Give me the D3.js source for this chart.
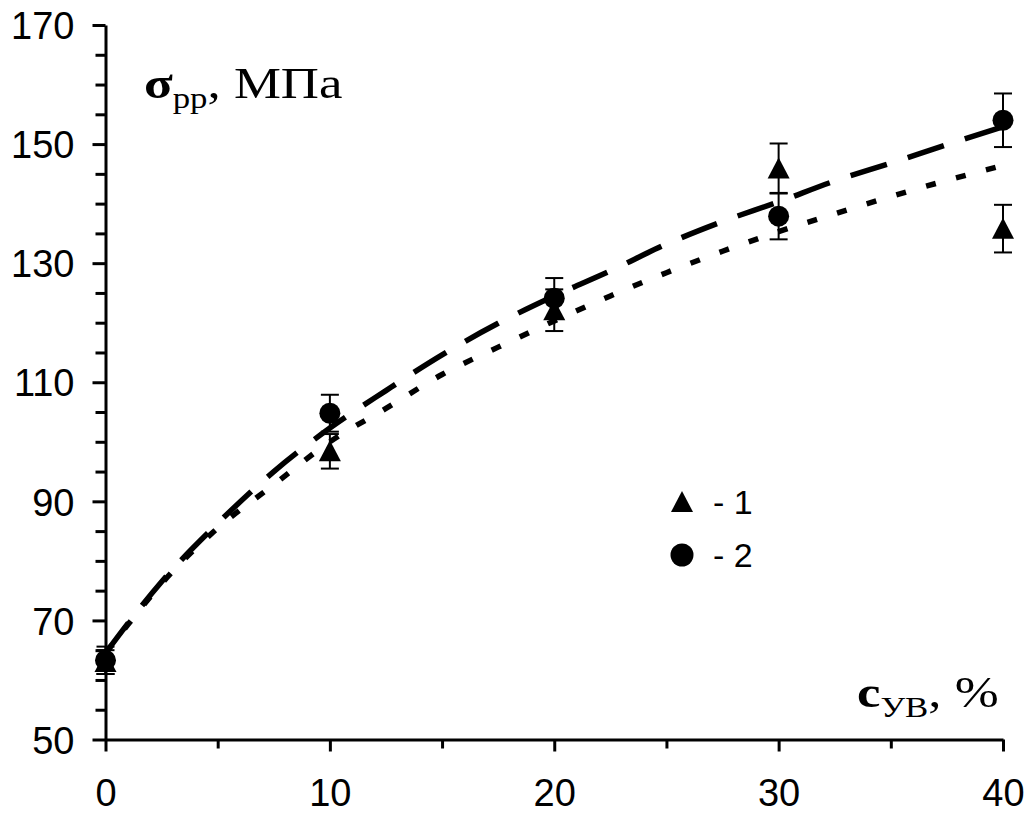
<!DOCTYPE html>
<html>
<head>
<meta charset="utf-8">
<script src="https://cdn.jsdelivr.net/npm/d3@7"></script>
<style>
  html, body { margin: 0; padding: 0; background: #fff; }
  svg { display: block; }
</style>
</head>
<body>
<svg id="chart" width="1027" height="814"></svg>
<script>
// Fibre content, %
const conc = [0, 10, 20, 30, 40];
// Series 1 (triangles) and its spread
const series1 = [63.0, 98.4, 122.1, 145.9, 135.8];
const err1 = [2.0, 2.9, 3.5, 4.2, 4.0];
// Series 2 (circles) and its spread
const series2 = [63.3, 104.8, 124.1, 137.9, 154.0];
const err2 = [2.3, 3.1, 3.4, 3.9, 4.5];

// Trend curves sampled along the concentration axis
const trendX = [0, 1, 2.5, 5, 7.5, 10, 12.5, 15, 17.5, 20, 22.5, 25, 27.5, 30, 32.5, 35, 37.5, 40];
const trend1 = [64.5, 69.3, 76.2, 85.5, 92.8, 100.0, 105.6, 111.3, 115.9, 120.3, 124.5, 128.4, 132.0, 135.3, 138.3, 141.2, 143.9, 146.4];
const trend2 = [64.5, 69.5, 76.5, 86.3, 95.0, 102.3, 108.6, 114.6, 119.9, 124.5, 128.7, 133.2, 137.0, 140.3, 143.8, 146.8, 149.9, 152.9];

const xMajor = [0, 10, 20, 30, 40];
const xMinor = [5, 15, 25, 35];
const yMajor = [50, 70, 90, 110, 130, 150, 170];
const yMinor = [55, 60, 65, 75, 80, 85, 95, 100, 105, 115, 120, 125, 135, 140, 145, 155, 160, 165];

const svg = d3.select("#chart");

const x = d3.scaleLinear().domain([0, 40]).range([105.5, 1003]);
const y = d3.scaleLinear().domain([50, 170]).range([739.5, 25]);

const serifStretch = 1.2;  // wide serif glyphs in the axis titles

// ---- axes ----
const axisG = svg.append("g");

// y minor ticks
axisG.append("g")
  .attr("transform", `translate(${x(0)},0)`)
  .call(d3.axisLeft(y).tickValues(yMinor).tickSize(10).tickFormat(""))
  .call(g => g.select(".domain").remove())
  .call(g => g.selectAll("line").attr("stroke", "#000").attr("stroke-width", 3));

// y major ticks and labels
const yAxisG = axisG.append("g")
  .attr("transform", `translate(${x(0)},0)`)
  .call(d3.axisLeft(y).tickValues(yMajor).tickSize(13).tickSizeOuter(0).tickFormat(d3.format("d")));
yAxisG.select(".domain").attr("stroke", "#000").attr("stroke-width", 3);
yAxisG.selectAll("line").attr("stroke", "#000").attr("stroke-width", 3);
yAxisG.selectAll("text")
  .attr("x", -31)
  .attr("dy", "0.36em")
  .attr("font-family", "Liberation Sans, Arial, sans-serif")
  .attr("font-size", 38)
  .attr("fill", "#000");

// x minor ticks
axisG.append("g")
  .attr("transform", `translate(0,${y(50)})`)
  .call(d3.axisBottom(x).tickValues(xMinor).tickSize(9).tickFormat(""))
  .call(g => g.select(".domain").remove())
  .call(g => g.selectAll("line").attr("stroke", "#000").attr("stroke-width", 3));

// x major ticks and labels
const xAxisG = axisG.append("g")
  .attr("transform", `translate(0,${y(50)})`)
  .call(d3.axisBottom(x).tickValues(xMajor).tickSize(12).tickSizeOuter(0).tickFormat(d3.format("d")));
xAxisG.select(".domain").attr("stroke", "#000").attr("stroke-width", 3);
xAxisG.selectAll("line").attr("stroke", "#000").attr("stroke-width", 3);
xAxisG.selectAll("text")
  .attr("y", 40)
  .attr("dy", "0.71em")
  .attr("font-family", "Liberation Sans, Arial, sans-serif")
  .attr("font-size", 38)
  .attr("fill", "#000");

// ---- trend curves ----
const line = d3.line()
  .x(d => x(d[0]))
  .y(d => y(d[1]))
  .curve(d3.curveMonotoneX);

svg.append("path")
  .datum(trendX.map((v, i) => [v, trend1[i]]))
  .attr("d", line)
  .attr("fill", "none")
  .attr("stroke", "#000")
  .attr("stroke-width", 5.5)
  .attr("stroke-dasharray", "10,21");

svg.append("path")
  .datum(trendX.map((v, i) => [v, trend2[i]]))
  .attr("d", line)
  .attr("fill", "none")
  .attr("stroke", "#000")
  .attr("stroke-width", 5.5)
  .attr("stroke-dasharray", "38,22");

// ---- error bars ----
function errorBars(vals, errs) {
  const g = svg.append("g").attr("stroke", "#000").attr("stroke-width", 2).attr("fill", "none");
  conc.forEach((c, i) => {
    const cx = x(c), top = y(vals[i] + errs[i]), bot = y(vals[i] - errs[i]);
    g.append("line").attr("x1", cx).attr("x2", cx).attr("y1", top).attr("y2", bot);
    g.append("line").attr("x1", cx - 9).attr("x2", cx + 9).attr("y1", top).attr("y2", top);
    g.append("line").attr("x1", cx - 9).attr("x2", cx + 9).attr("y1", bot).attr("y2", bot);
  });
}
errorBars(series1, err1);
errorBars(series2, err2);

// ---- markers ----
const triPath = "M0,-11L11,10L-11,10Z";

svg.append("g").selectAll("path")
  .data(conc.map((c, i) => [c, series1[i]]))
  .join("path")
  .attr("transform", d => `translate(${x(d[0])},${y(d[1])})`)
  .attr("d", triPath)
  .attr("fill", "#000");

svg.append("g").selectAll("circle")
  .data(conc.map((c, i) => [c, series2[i]]))
  .join("circle")
  .attr("cx", d => x(d[0]))
  .attr("cy", d => y(d[1]))
  .attr("r", 10.5)
  .attr("fill", "#000");

// ---- legend ----
const legend = svg.append("g");
legend.append("path")
  .attr("transform", "translate(682,502)")
  .attr("d", triPath)
  .attr("fill", "#000");
legend.append("circle")
  .attr("cx", 682).attr("cy", 555).attr("r", 11.5)
  .attr("fill", "#000");
[["- 1", 514], ["- 2", 567]].forEach(([t, by]) => {
  legend.append("text")
    .attr("x", 713).attr("y", by)
    .attr("font-family", "Liberation Sans, Arial, sans-serif")
    .attr("font-size", 34)
    .attr("fill", "#000")
    .text(t);
});

// ---- axis titles ----
function axisTitle(tx, ty, main, sub, rest) {
  const t = svg.append("g")
    .attr("transform", `translate(${tx},${ty}) scale(${serifStretch},1)`)
    .append("text")
    .attr("font-family", "Liberation Serif, Times New Roman, serif")
    .attr("font-size", 44)
    .attr("fill", "#000");
  t.append("tspan").attr("font-weight", "bold").text(main);
  t.append("tspan").attr("font-size", 29).attr("dy", 10).text(sub);
  t.append("tspan").attr("dy", -10).text(rest);
}
axisTitle(144, 98, "σ", "рр", ", МПа");
axisTitle(857, 707, "c", "УВ", ", %");
</script>
</body>
</html>
